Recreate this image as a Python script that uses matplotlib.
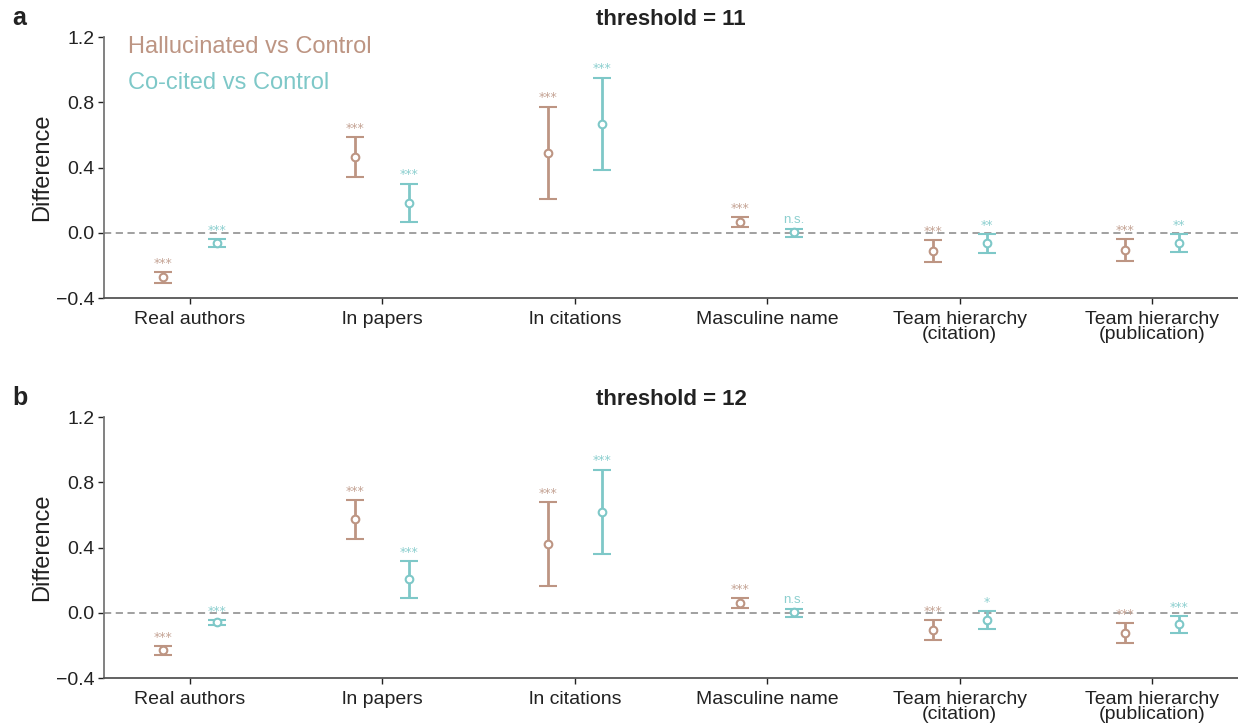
import matplotlib

matplotlib.use("Agg")
import matplotlib.pyplot as plt
import numpy as np

plt.rcParams["font.family"] = ["Liberation Sans", "DejaVu Sans"]

categories = ["Real authors", "ln papers", "ln citations", "Masculine name",
              "Team hierarchy\n(citation)", "Team hierarchy\n(publication)"]
thresholds = [11, 12]
series_names = ["Hallucinated vs Control", "Co-cited vs Control"]

# threshold = 11: point estimate, lower bound, upper bound
halluc_11 = [-0.273, 0.464, 0.492, 0.066, -0.111, -0.105]
halluc_11_lo = [-0.305, 0.341, 0.209, 0.033, -0.178, -0.172]
halluc_11_hi = [-0.242, 0.589, 0.774, 0.097, -0.045, -0.039]
cocited_11 = [-0.063, 0.185, 0.669, 0.002, -0.065, -0.063]
cocited_11_lo = [-0.088, 0.066, 0.386, -0.026, -0.121, -0.119]
cocited_11_hi = [-0.039, 0.302, 0.952, 0.025, -0.010, -0.008]
halluc_11_sig = ["***", "***", "***", "***", "***", "***"]
cocited_11_sig = ["***", "***", "***", "n.s.", "**", "**"]

# threshold = 12
halluc_12 = [-0.229, 0.574, 0.420, 0.058, -0.104, -0.123]
halluc_12_lo = [-0.256, 0.453, 0.164, 0.027, -0.166, -0.186]
halluc_12_hi = [-0.205, 0.692, 0.676, 0.088, -0.043, -0.061]
cocited_12 = [-0.059, 0.205, 0.620, 0.002, -0.047, -0.071]
cocited_12_lo = [-0.076, 0.092, 0.362, -0.026, -0.100, -0.127]
cocited_12_hi = [-0.043, 0.318, 0.878, 0.025, 0.009, -0.020]
halluc_12_sig = ["***", "***", "***", "***", "***", "***"]
cocited_12_sig = ["***", "***", "***", "n.s.", "*", "***"]

COLORS = ["#BD9583", "#7EC8C8"]
STAR_COLORS = ["#C4A394", "#8CCFCF"]
OFFSET = 0.14

panels = [
    (thresholds[0], [(halluc_11, halluc_11_lo, halluc_11_hi, halluc_11_sig),
                     (cocited_11, cocited_11_lo, cocited_11_hi, cocited_11_sig)]),
    (thresholds[1], [(halluc_12, halluc_12_lo, halluc_12_hi, halluc_12_sig),
                     (cocited_12, cocited_12_lo, cocited_12_hi, cocited_12_sig)]),
]

fig = plt.figure(figsize=(12.38, 7.27), dpi=100)
axes = [fig.add_axes([0.084, 0.590, 0.916, 0.359]),
        fig.add_axes([0.084, 0.0674, 0.916, 0.359])]

x = np.arange(len(categories))
for ax, (thr, groups) in zip(axes, panels):
    ax.axhline(0, color="#999999", lw=1.3, ls=(0, (4, 2.5)), zorder=1)
    for k, (est, lo, hi, sig) in enumerate(groups):
        est = np.array(est)
        lo = np.array(lo)
        hi = np.array(hi)
        xs = x + (2 * k - 1) * OFFSET
        ax.errorbar(xs, est, yerr=[est - lo, hi - est], fmt="o", color=COLORS[k],
                    ecolor=COLORS[k], elinewidth=2.0, capsize=6.2, capthick=2.2,
                    markersize=5.5, markerfacecolor="white", markeredgewidth=1.5,
                    markeredgecolor=COLORS[k], zorder=3)
        for xi, top, label in zip(xs, hi, sig):
            if label == "n.s.":
                ax.annotate(label, (xi, top), xytext=(0, 2), textcoords="offset points",
                            ha="center", va="bottom", fontsize=9.5, color=STAR_COLORS[k])
            else:
                ax.annotate(label, (xi, top), xytext=(0, 1.5), textcoords="offset points",
                            ha="center", va="bottom", fontsize=9, color=STAR_COLORS[k],
                            family="DejaVu Sans")

    ax.set_xlim(-0.447, 5.447)
    ax.set_ylim(-0.4, 1.2)
    ax.set_yticks([-0.4, 0.0, 0.4, 0.8, 1.2])
    ax.set_yticklabels(["\u22120.4", "0.0", "0.4", "0.8", "1.2"])
    ax.set_xticks(x)
    ax.set_xticklabels(categories, linespacing=0.9)
    ax.tick_params(axis="both", labelsize=14, colors="#222222", length=4, width=1.0,
                   pad=3)
    ax.tick_params(axis="x", pad=5)
    for side in ("top", "right"):
        ax.spines[side].set_visible(False)
    ax.spines["left"].set_color("#777777")
    ax.spines["bottom"].set_color("#555555")
    ax.spines["left"].set_linewidth(1.3)
    ax.spines["bottom"].set_linewidth(1.3)
    ax.set_ylabel("Difference", fontsize=17, color="#222222", labelpad=2)
    ax.set_title(f"threshold = {thr}", fontsize=16, fontweight="bold", color="#222222",
                 pad=9)

axes[0].text(0.021, 0.962, series_names[0], transform=axes[0].transAxes, fontsize=17,
             color=COLORS[0], va="center", ha="left")
axes[0].text(0.021, 0.824, series_names[1], transform=axes[0].transAxes, fontsize=17,
             color=COLORS[1], va="center", ha="left")

fig.text(0.0097, 0.9656, "a", fontsize=18, fontweight="bold", color="#222222",
         va="baseline")
fig.text(0.0097, 0.443, "b", fontsize=18, fontweight="bold", color="#222222",
         va="baseline")

fig.savefig("out.png", dpi=100, facecolor="white")
